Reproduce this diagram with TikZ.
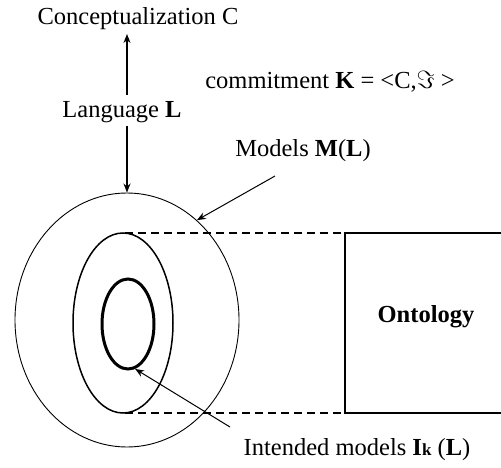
\documentclass[tikz,border=0pt]{standalone}
\usepackage{fontspec}
\setmainfont{Liberation Serif}
\usetikzlibrary{shapes.geometric,arrows.meta}
\begin{document}
\begin{tikzpicture}[x=1pt,y=-1pt,
  lbl/.style={font=\fontsize{24.5}{28}\selectfont, inner sep=1pt},
  ell/.style={draw, ellipse, inner sep=0pt},
  arr/.style={-{Stealth[length=9pt,width=7pt]}, line width=1.4pt},
  dash line/.style={dash pattern=on 8pt off 5pt, line width=1.4pt},
  boxline/.style={line width=1.8pt}]
\useasboundingbox (0,0) rectangle (501,468);
% ellipses
\node[ell, line width=0.9pt, minimum width=224pt, minimum height=254pt] (outer) at (127,320) {};
\node[ell, line width=1.5pt, minimum width=100pt, minimum height=180pt] (mid) at (123,323) {};
\node[ell, line width=3pt, minimum width=52pt, minimum height=90pt] (inner) at (128,324) {};
% texts
\node[lbl] (concept) at (138,19) {Conceptualization C};
\node[lbl] (lang) at (122,112) {Language \textbf{L}};
\node[lbl] (commit) at (330,82) {commitment \textbf{K} = <C,$\Im$ >};
\node[lbl] (models) at (303,151) {Models \textbf{M}(\textbf{L})};
\node[lbl, font=\fontsize{24.5}{28}\selectfont\bfseries] (onto) at (426,317) {Ontology};
\node[lbl] (intended) at (357,450) {Intended models \textbf{I{\fontsize{17}{20}\selectfont k}} (\textbf{L})};
% ontology box
\coordinate (bt) at (345,233);
\coordinate (bb) at (345,413);
\coordinate (bte) at (501,233);
\coordinate (bbe) at (501,413);
\coordinate (mtop) at (125,233);
\coordinate (mbot) at (125,413);
\draw[boxline] (bte) -- (bt) -- (bb) -- (bbe);
\draw[dash line] (mtop) -- (bt);
\draw[dash line] (mbot) -- (bb);
% arrows
\coordinate (upstart) at (127,95);
\coordinate (uptip) at (127,34);
\draw[arr] (upstart) -- (uptip);
\coordinate (langfoot) at (127,126);
\draw[arr] (langfoot) -- (outer.north);
\coordinate (mstart) at (275,176);
\draw[arr, line width=1pt] (mstart) -- (outer.55);
\coordinate (istart) at (230,427);
\draw[arr, line width=1pt] (istart) -- (inner.-81);
\end{tikzpicture}
\end{document}
